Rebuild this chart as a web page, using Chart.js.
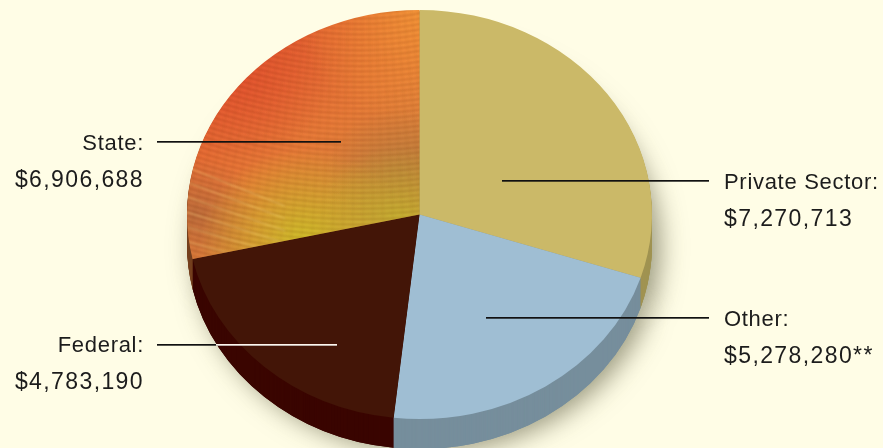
<!DOCTYPE html>
<html>
<head>
<meta charset="utf-8">
<title>Funding sources</title>
<style>
  html, body { margin: 0; padding: 0; background: #fffde6; overflow: hidden; }
  canvas { display: block; }
</style>
</head>
<body>
<canvas id="myChart" width="883" height="448"></canvas>
<script src="https://cdn.jsdelivr.net/npm/chart.js@4"></script>
<script>
// data
const categories = ['Private Sector:', 'Other:', 'Federal:', 'State:'];
const amounts = [7270713, 5278280, 4783190, 6906688];
const amountSuffix = ['', '**', '', ''];

const faceColors = ['#cbb968', '#9fbed3', '#431507'];
const sideColors = ['#a09352', '#768e9c', '#3a0500', '#75401f'];

// pie is squashed into an ellipse and given a side wall
const squash = 0.88;
const depth = 30;

// label placement: x of text, baselines, leader line
const labelPlaces = [
  { x: 724, align: 'left', y1: 189, y2: 226, line: [502, 709, 181] },
  { x: 724, align: 'left', y1: 326, y2: 363, line: [486, 709, 318] },
  { x: 144, align: 'right', y1: 352, y2: 389, line: [157, 337, 345], lightFrom: 216 },
  { x: 144, align: 'right', y1: 150, y2: 187, line: [157, 341, 142] }
];

// State slice has a rippled photo texture (drawn 40px lower, pattern moved back up)
const texShift = 40;

function stateTexture() {
  const c = document.createElement('canvas');
  c.width = 883;
  c.height = 560;
  const g = c.getContext('2d');
  g.translate(0, texShift);

  function glow(x, y, rad, rgb, a) {
    const r = g.createRadialGradient(x, y, 0, x, y, rad);
    r.addColorStop(0, 'rgba(' + rgb + ',' + a + ')');
    r.addColorStop(1, 'rgba(' + rgb + ',0)');
    g.fillStyle = r;
    g.fillRect(0, -texShift, 883, 560);
  }

  const base = g.createLinearGradient(200, 20, 400, 260);
  base.addColorStop(0, '#e6502e');
  base.addColorStop(0.5, '#ea7a38');
  base.addColorStop(1, '#c48a3e');
  g.fillStyle = base;
  g.fillRect(0, -texShift, 883, 560);

  glow(425, -15, 130, '246,150,55', 0.95);
  glow(240, 60, 90, '228,72,44', 0.6);
  glow(400, 170, 75, '178,122,62', 0.7);
  glow(195, 215, 65, '182,105,60', 0.85);
  glow(305, 245, 105, '208,192,40', 1);
  glow(400, 222, 85, '198,178,48', 1);

  // ripples, concentric about a point above the pie
  g.filter = 'blur(0.8px)';
  for (let rad = 280; rad < 640; rad += 6) {
    g.beginPath();
    g.arc(360, -300, rad, 0, Math.PI);
    g.strokeStyle = 'rgba(110,55,20,0.2)';
    g.lineWidth = 2;
    g.stroke();
    g.beginPath();
    g.arc(360, -300, rad + 3, 0, Math.PI);
    g.strokeStyle = 'rgba(255,205,120,0.11)';
    g.lineWidth = 1.5;
    g.stroke();
  }
  // faint cross weave
  for (let x = 180; x < 430; x += 7) {
    g.beginPath();
    g.moveTo(x, -20);
    g.lineTo(x + (x - 360) * 0.5, 260);
    g.strokeStyle = 'rgba(120,60,25,0.06)';
    g.lineWidth = 2;
    g.stroke();
  }
  // pale streaks at the lower left
  for (let i = 0; i < 6; i++) {
    g.beginPath();
    g.moveTo(185, 160 + i * 17);
    g.lineTo(285, 205 + i * 14);
    g.strokeStyle = 'rgba(250,215,130,0.36)';
    g.lineWidth = 1.5;
    g.stroke();
  }
  g.filter = 'none';
  return c;
}

const ctx = document.getElementById('myChart').getContext('2d');
const statePattern = ctx.createPattern(stateTexture(), 'no-repeat');
statePattern.setTransform(new DOMMatrix().translate(0, -texShift));

function drawArc(arc, c, color) {
  const saved = arc.options;
  arc.options = Object.create(saved, {
    backgroundColor: { value: color },
    borderWidth: { value: 0 }
  });
  arc.draw(c);
  arc.options = saved;
}

const pie3d = {
  id: 'pie3d',
  beforeDatasetDraw(chart) {
    const c = chart.ctx;
    const arcs = chart.getDatasetMeta(0).data;
    const cy = arcs[0].y;
    c.save();
    c.translate(0, cy);
    c.scale(1, squash);
    c.translate(0, -cy);

    // soft shadow under the wall
    c.save();
    c.translate(0, depth / squash);
    c.shadowColor = 'rgba(70,70,40,0.55)';
    c.shadowBlur = 26;
    c.shadowOffsetX = 8;
    c.shadowOffsetY = 3;
    arcs.forEach((a, i) => drawArc(a, c, sideColors[i]));
    c.restore();

    // wall: back slices first so the seams fall at the rim points
    [3, 0, 2, 1].forEach(i => {
      for (let o = depth; o > 0; o--) {
        c.save();
        c.translate(0, o / squash);
        drawArc(arcs[i], c, sideColors[i]);
        c.restore();
      }
    });
  },
  afterDatasetDraw(chart) {
    chart.ctx.restore();
  },
  afterDraw(chart) {
    const c = chart.ctx;
    c.save();
    c.textBaseline = 'alphabetic';
    labelPlaces.forEach((p, i) => {
      const [x1, x2, y] = p.line;
      c.fillStyle = '#111';
      c.fillRect(x1, y - 1, x2 - x1, 1.7);
      if (p.lightFrom) {
        c.fillStyle = '#fff6ee';
        c.fillRect(p.lightFrom, y - 1, x2 - p.lightFrom, 1.7);
      }
      c.fillStyle = '#1c1c1c';
      c.textAlign = p.align;
      c.font = '22px "Liberation Sans"';
      c.letterSpacing = '0.7px';
      c.fillText(categories[i], p.x, p.y1);
      // the figures are set wider than the words
      c.font = '23px "Liberation Sans"';
      c.letterSpacing = '1.4px';
      c.fillText('$' + amounts[i].toLocaleString('en-US') + amountSuffix[i], p.x, p.y2);
    });
    c.restore();
  }
};

const myChart = new Chart(ctx, {
  type: 'pie',
  data: {
    labels: categories,
    datasets: [{
      data: amounts,
      backgroundColor: [faceColors[0], faceColors[1], faceColors[2], statePattern],
      borderWidth: 0,
      radius: 232.5,
      clip: false
    }]
  },
  options: {
    responsive: false,
    devicePixelRatio: 1,
    animation: false,
    events: [],
    layout: { padding: { left: 0, top: 0, right: 44, bottom: 19 } },
    plugins: { legend: { display: false }, tooltip: { enabled: false } }
  },
  plugins: [pie3d]
});
</script>
</body>
</html>
